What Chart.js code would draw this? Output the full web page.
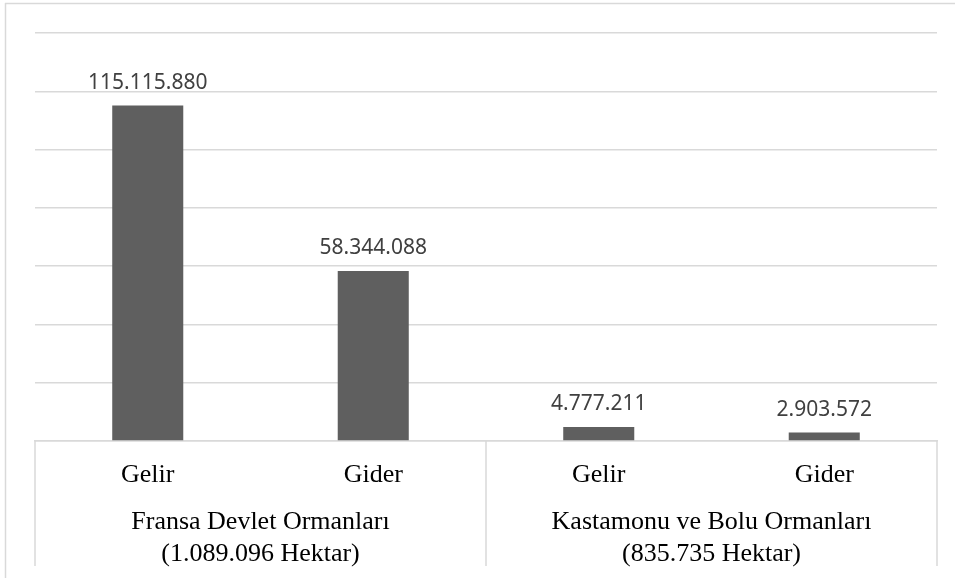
<!DOCTYPE html>
<html>
<head>
    <meta charset="UTF-8">
    <title>Gelir Gider</title>
    <script src="https://cdn.jsdelivr.net/npm/chart.js@4.4.0/dist/chart.umd.min.js"></script>
    <style>
        body { margin: 0; background: #fff; }
        #wrap { width: 955px; height: 578px; }
    </style>
</head>
<body>
    <div id="wrap"><canvas id="bar-chart" width="955" height="578"></canvas></div>
    <script>
        // veriler
        let kalemler = ['Gelir', 'Gider', 'Gelir', 'Gider'];
        let gruplar = [['Fransa Devlet Ormanları', '(1.089.096 Hektar)'], ['Kastamonu ve Bolu Ormanları', '(835.735 Hektar)']];
        let degerler = [115115880, 58344088, 4777211, 2903572];
        let yMax = 140000000;
        let yAdim = 20000000;

        function noktali(v){
            return String(v).replace(/\B(?=(\d{3})+(?!\d))/g, '.');
        }

        // dis cerceve + grup ayiraclari + deger etiketleri
        let cizimler = {
            id: 'cizimler',
            beforeDraw(chart){
                let c = chart.ctx;
                c.save();
                c.strokeStyle = '#d9d9d9';
                c.lineWidth = 1.5;
                c.beginPath();
                c.moveTo(5, 3.5); c.lineTo(chart.width, 3.5);
                c.moveTo(5.5, 3); c.lineTo(5.5, chart.height);
                c.stroke();
                c.restore();
            },
            afterDraw(chart){
                let c = chart.ctx;
                let a = chart.chartArea;
                let x2 = chart.scales.x2;
                let orta = (x2.getPixelForTick(0) + x2.getPixelForTick(1)) / 2;
                c.save();
                c.strokeStyle = '#d9d9d9';
                c.lineWidth = 1.5;
                c.beginPath();
                [a.left, orta, a.right].forEach(px => {
                    c.moveTo(px, a.bottom);
                    c.lineTo(px, x2.bottom - 6);
                });
                c.stroke();

                c.fillStyle = '#404040';
                c.font = '21px "Noto Sans"';
                c.textAlign = 'center';
                c.textBaseline = 'alphabetic';
                chart.getDatasetMeta(0).data.forEach((bar, i) => {
                    c.fillText(noktali(degerler[i]), bar.x, bar.y - 17);
                });
                c.restore();
            }
        };

        new Chart(document.getElementById('bar-chart'), {
            type: 'bar',
            data: {
                labels: kalemler,
                datasets: [{
                    data: degerler,
                    backgroundColor: '#5f5f5f',
                    borderWidth: 0,
                    categoryPercentage: 1,
                    barPercentage: 0.315
                }]
            },
            options: {
                responsive: false,
                animation: false,
                layout: { padding: { left: 35, right: 18, top: 33, bottom: 6 } },
                plugins: { legend: { display: false }, tooltip: { enabled: false } },
                scales: {
                    y: {
                        min: 0,
                        max: yMax,
                        ticks: { display: false, stepSize: yAdim },
                        grid: { color: '#d9d9d9', lineWidth: 1.5, drawTicks: false },
                        border: { display: false },
                        afterFit(s){ s.width = 0; }
                    },
                    x: {
                        grid: { display: false },
                        border: { display: true, color: '#d9d9d9', width: 1.5 },
                        ticks: {
                            color: '#000',
                            font: { family: '"Liberation Serif"', size: 26 },
                            padding: 11,
                            maxRotation: 0
                        },
                        afterFit(s){ s.height = 60; }
                    },
                    x2: {
                        type: 'category',
                        position: 'bottom',
                        labels: gruplar,
                        offset: true,
                        grid: { display: false },
                        border: { display: false },
                        ticks: {
                            color: '#000',
                            font: { family: '"Liberation Serif"', size: 26, lineHeight: 1.2 },
                            padding: -2,
                            maxRotation: 0
                        },
                        afterFit(s){ s.height = 71; }
                    }
                }
            },
            plugins: [cizimler]
        });
    </script>
</body>
</html>
